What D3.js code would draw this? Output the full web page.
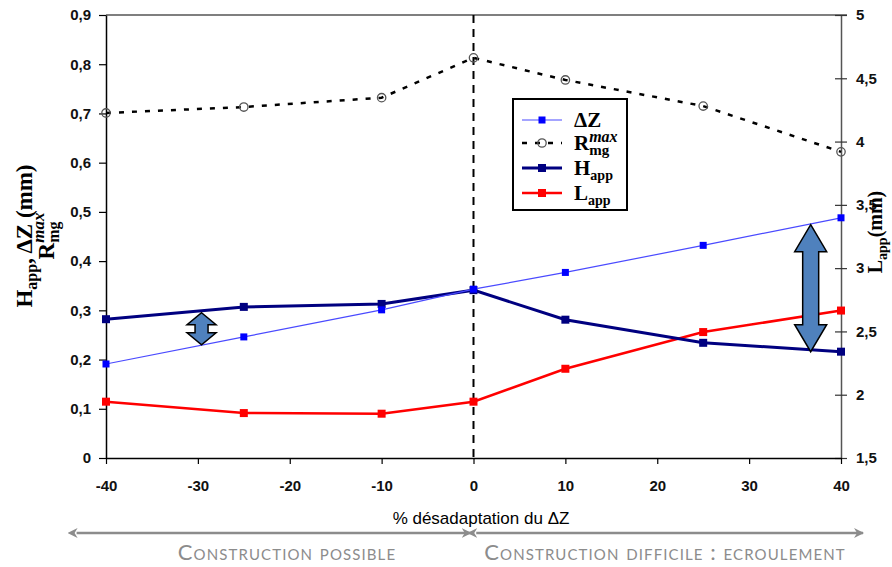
<!DOCTYPE html>
<html lang="fr">
<head>
    <meta charset="UTF-8"/>
    <title>Désadaptation du ΔZ</title>
    <script src="https://d3js.org/d3.v7.min.js"></script>
    <style>
        body { margin: 0; background: #fff; }
        svg { display: block; }
    </style>
</head>
<body>
<script>
    // ---- data ----
    var pct = [-40, -25, -10, 0, 10, 25, 40];
    var deltaZ = [0.191, 0.246, 0.301, 0.343, 0.377, 0.432, 0.488];
    var rmgMax = [0.701, 0.713, 0.732, 0.813, 0.768, 0.715, 0.622];
    var hApp = [0.282, 0.307, 0.313, 0.341, 0.281, 0.234, 0.216];
    var lApp = [1.945, 1.855, 1.85, 1.945, 2.205, 2.495, 2.665];

    var xTicks = [-40, -30, -20, -10, 0, 10, 20, 30, 40];
    var leftTicks = [0, 0.1, 0.2, 0.3, 0.4, 0.5, 0.6, 0.7, 0.8, 0.9];
    var rightTicks = [1.5, 2, 2.5, 3, 3.5, 4, 4.5, 5];

    var w = 892, h = 567;
    var pLeft = 106, pRight = 841, pTop = 15, pBottom = 458;

    var svg = d3.select("body").append("svg")
        .attr("width", w).attr("height", h);

    var x = d3.scaleLinear().domain([-40, 40]).range([pLeft, pRight]);
    var yL = d3.scaleLinear().domain([0, 0.9]).range([pBottom, pTop]);
    var yR = d3.scaleLinear().domain([1.5, 5]).range([pBottom, pTop]);

    var comma = d => String(+d.toFixed(1)).replace(".", ",");
    var tickFont = "'Liberation Sans', Arial, sans-serif";
    var serif = "'Liberation Serif', 'Times New Roman', serif";

    // top frame line
    svg.append("line")
        .attr("x1", pLeft).attr("x2", pRight + 6)
        .attr("y1", pTop).attr("y2", pTop)
        .attr("stroke", "#7f7f7f").attr("stroke-width", 2);

    // axes
    var gL = svg.append("g").attr("transform", `translate(${pLeft},0)`)
        .call(d3.axisLeft(yL).tickValues(leftTicks).tickFormat(comma)
            .tickSize(7).tickPadding(8).tickSizeOuter(0));
    var gR = svg.append("g").attr("transform", `translate(${pRight},0)`)
        .call(d3.axisRight(yR).tickValues(rightTicks).tickFormat(comma)
            .tickSize(6).tickPadding(9).tickSizeOuter(0));
    gR.selectAll(".tick line").attr("x1", -6).attr("stroke", "#333");
    var gB = svg.append("g").attr("transform", `translate(0,${pBottom})`)
        .call(d3.axisBottom(x).tickValues(xTicks).tickFormat(d => d)
            .tickSize(6).tickPadding(16).tickSizeOuter(0));

    [gL, gR, gB].forEach(g => {
        g.select(".domain").attr("stroke-width", 1.5);
        g.selectAll(".tick line").attr("stroke-width", 1.2);
        g.selectAll("text")
            .attr("font-family", tickFont)
            .attr("font-weight", "bold")
            .attr("font-size", 15)
            .attr("fill", "#111");
    });
    gR.select(".domain").attr("stroke", "#555");

    // vertical dashed line at 0
    svg.append("line")
        .attr("x1", x(0)).attr("x2", x(0))
        .attr("y1", pTop).attr("y2", pBottom)
        .attr("stroke", "#000").attr("stroke-width", 2)
        .attr("stroke-dasharray", "8,6");

    var rows = pct.map((p, i) => ({p: p, dz: deltaZ[i], r: rmgMax[i], ha: hApp[i], la: lApp[i]}));

    function drawLine(key, scale, color, width, dash) {
        var line = d3.line().x(d => x(d.p)).y(d => scale(d[key]));
        svg.append("path").datum(rows)
            .attr("d", line)
            .attr("fill", "none")
            .attr("stroke", color)
            .attr("stroke-width", width)
            .attr("stroke-dasharray", dash || null);
    }
    function drawSquares(key, scale, color, size) {
        svg.append("g").selectAll("rect").data(rows).enter().append("rect")
            .attr("x", d => x(d.p) - size / 2)
            .attr("y", d => scale(d[key]) - size / 2)
            .attr("width", size).attr("height", size)
            .attr("fill", color);
    }

    // Rmg max
    drawLine("r", yL, "#000", 2.5, "5,8");
    svg.append("g").selectAll("circle").data(rows).enter().append("circle")
        .attr("cx", d => x(d.p)).attr("cy", d => yL(d.r))
        .attr("r", 4.2)
        .attr("fill", "none")
        .attr("stroke", "#555").attr("stroke-width", 1.3);

    // Lapp (right axis)
    drawLine("la", yR, "#ff0000", 2.5);
    drawSquares("la", yR, "#ff0000", 8);

    // Happ
    drawLine("ha", yL, "#000080", 3);
    drawSquares("ha", yL, "#000080", 8);

    // Delta Z
    drawLine("dz", yL, "#4a4aff", 1.2);
    drawSquares("dz", yL, "#0000ff", 7);

    // block double arrows (annotation)
    function doubleArrow(cx, yTop, yBot, headW, headH, shaftW) {
        var hw = headW / 2, sw = shaftW / 2;
        var pts = [
            [cx, yTop], [cx + hw, yTop + headH], [cx + sw, yTop + headH],
            [cx + sw, yBot - headH], [cx + hw, yBot - headH], [cx, yBot],
            [cx - hw, yBot - headH], [cx - sw, yBot - headH],
            [cx - sw, yTop + headH], [cx - hw, yTop + headH]
        ];
        svg.append("path")
            .attr("d", "M" + pts.map(p => p.join(",")).join("L") + "Z")
            .attr("fill", "#4f81bd")
            .attr("stroke", "#000").attr("stroke-width", 1.5)
            .attr("stroke-linejoin", "miter");
    }
    doubleArrow(x(-29.6), yL(0.295), yL(0.23), 29, 12, 13);
    doubleArrow(x(36.7), yL(0.474), yL(0.216), 32, 27, 16);

    // rich text helper (sub / superscripts)
    function rich(parent, parts, size) {
        var g = parent.append("g");
        var cx = 0, prevX = 0;
        parts.forEach(p => {
            var px = p.stack ? prevX : cx;
            var t = g.append("text")
                .attr("x", px).attr("y", p.dy || 0)
                .attr("font-family", serif)
                .attr("font-weight", "bold")
                .attr("font-style", p.italic ? "italic" : "normal")
                .attr("font-size", p.size || size)
                .attr("fill", "#000")
                .text(p.t);
            var tw = t.node().getComputedTextLength();
            if (p.stack) {
                cx = Math.max(cx, px + tw);
            } else {
                prevX = px;
                cx = px + tw;
            }
        });
        return {g: g, width: cx};
    }

    // legend
    var lg = svg.append("g");
    lg.append("rect")
        .attr("x", 513).attr("y", 99).attr("width", 114).attr("height", 111)
        .attr("fill", "#fff").attr("stroke", "#000").attr("stroke-width", 2);
    var legendItems = [
        {y: 120, color: "#4a4aff", width: 1.2, marker: "sq", mcolor: "#0000ff", msize: 7,
         label: [{t: "ΔZ"}]},
        {y: 143, color: "#000", width: 2.5, dash: "5,8", marker: "circ",
         label: [{t: "R"}, {t: "mg", size: 15, dy: 5}, {t: "max", size: 16, dy: -8, italic: true, stack: true}]},
        {y: 168, color: "#000080", width: 3, marker: "sq", mcolor: "#000080", msize: 8,
         label: [{t: "H"}, {t: "app", size: 14, dy: 5}]},
        {y: 193, color: "#ff0000", width: 2.5, marker: "sq", mcolor: "#ff0000", msize: 8,
         label: [{t: "L"}, {t: "app", size: 14, dy: 5}]}
    ];
    legendItems.forEach(it => {
        lg.append("line")
            .attr("x1", 522).attr("x2", 562).attr("y1", it.y).attr("y2", it.y)
            .attr("stroke", it.color).attr("stroke-width", it.width)
            .attr("stroke-dasharray", it.dash || null);
        if (it.marker === "sq") {
            lg.append("rect")
                .attr("x", 542 - it.msize / 2).attr("y", it.y - it.msize / 2)
                .attr("width", it.msize).attr("height", it.msize)
                .attr("fill", it.mcolor);
        } else {
            lg.append("circle").attr("cx", 542).attr("cy", it.y).attr("r", 4.2)
                .attr("fill", "none").attr("stroke", "#555").attr("stroke-width", 1.3);
        }
        var r = rich(lg, it.label, 21);
        r.g.attr("transform", `translate(574,${it.y + 7})`);
    });

    // left axis title (two lines, rotated)
    var t1 = rich(svg.append("g").attr("transform", "translate(32,236) rotate(-90)"),
        [{t: "H"}, {t: "app", size: 16, dy: 5}, {t: ", ΔZ (mm)"}], 23);
    t1.g.attr("transform", `translate(${-t1.width / 2},0)`);
    var t2 = rich(svg.append("g").attr("transform", "translate(54,236) rotate(-90)"),
        [{t: "R"}, {t: "mg", size: 16, dy: 5}, {t: "max", size: 17, dy: -10, italic: true, stack: true}], 23);
    t2.g.attr("transform", `translate(${-t2.width / 2},0)`);

    // right axis title
    var t3 = rich(svg.append("g").attr("transform", "translate(882,232) rotate(-90)"),
        [{t: "L"}, {t: "app", size: 14, dy: 5}, {t: " (mm)"}], 20);
    t3.g.attr("transform", `translate(${-t3.width / 2},0)`);

    // x axis title
    svg.append("text")
        .attr("x", 481).attr("y", 524)
        .attr("text-anchor", "middle")
        .attr("font-family", tickFont)
        .attr("font-size", 17)
        .attr("fill", "#000")
        .text("% désadaptation du ΔZ");

    // grey double-headed range arrows under the axis
    var defs = svg.append("defs");
    ["start", "end"].forEach(k => {
        defs.append("marker")
            .attr("id", "ah-" + k)
            .attr("viewBox", "0 0 10 10")
            .attr("refX", k === "end" ? 9 : 1).attr("refY", 5)
            .attr("markerWidth", 4).attr("markerHeight", 4)
            .attr("orient", k === "end" ? "auto" : "auto-start-reverse")
            .append("path")
            .attr("d", "M0,0L10,5L0,10L3,5Z")
            .attr("fill", "#8c8c8c");
    });
    var zones = [
        {from: -43.2, to: -0.3, label: "Construction possible", cx: 287},
        {from: 0.3, to: 42.4, label: "Construction difficile : ecroulement", cx: 665}
    ];
    zones.forEach(z => {
        svg.append("line")
            .attr("x1", x(z.from)).attr("x2", x(z.to))
            .attr("y1", 533).attr("y2", 533)
            .attr("stroke", "#8c8c8c").attr("stroke-width", 2.5)
            .attr("marker-start", "url(#ah-start)")
            .attr("marker-end", "url(#ah-end)");
        svg.append("text")
            .attr("x", z.cx).attr("y", 560)
            .attr("text-anchor", "middle")
            .attr("font-family", "Lato, 'Open Sans', sans-serif")
            .attr("font-size", 22)
            .attr("letter-spacing", 1.1)
            .attr("font-variant", "small-caps")
            .attr("fill", "#8c8c8c")
            .text(z.label);
    });
</script>
</body>
</html>
